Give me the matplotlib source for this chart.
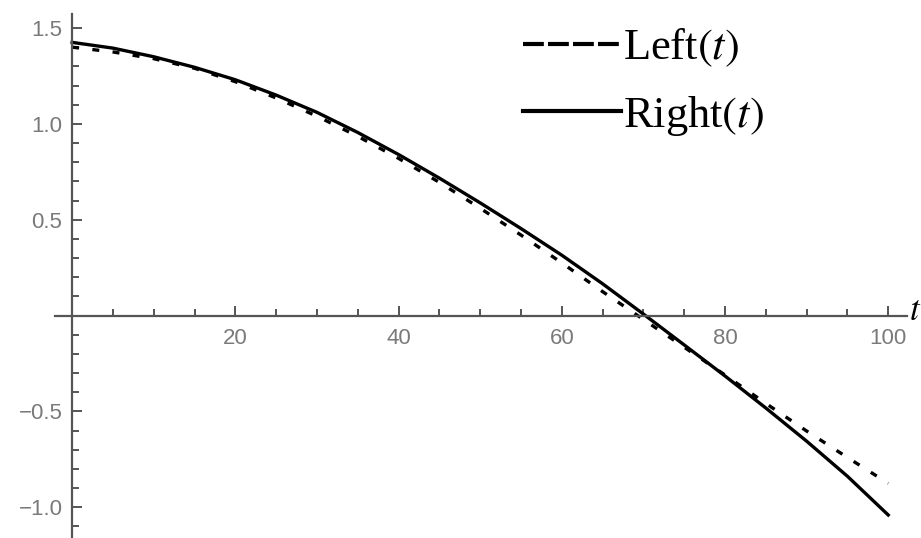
import numpy as np
import matplotlib
matplotlib.use("Agg")
import matplotlib.pyplot as plt
from matplotlib.lines import Line2D
from matplotlib.ticker import FixedLocator, MultipleLocator

plt.rcParams["mathtext.fontset"] = "stix"

# sampled values of the two solutions
t = [0, 5, 10, 15, 20, 25, 30, 35, 40, 45, 50, 55, 60, 65, 70, 75, 80, 85, 90, 95, 100]
left_t = [1.400, 1.375, 1.340, 1.290, 1.220, 1.135, 1.040, 0.935, 0.820, 0.695, 0.560,
          0.420, 0.275, 0.125, -0.020, -0.165, -0.310, -0.458, -0.602, -0.740, -0.875]
right_t = [1.425, 1.395, 1.350, 1.295, 1.230, 1.150, 1.060, 0.955, 0.840, 0.717, 0.588,
           0.454, 0.315, 0.166, 0.008, -0.153, -0.315, -0.482, -0.655, -0.838, -1.040]

x_major = [20, 40, 60, 80, 100]
y_major = [-1.0, -0.5, 0.5, 1.0, 1.5]

axis_grey = "#555555"
label_grey = "#7a7a7a"

fig = plt.figure(figsize=(9.21, 5.38), dpi=100)
ax = fig.add_axes([55 / 921, 0.0, (907 - 55) / 921, 1 - 14 / 538])

ax.plot(t, left_t, color="black", lw=2.4, ls=(0, (2.1, 4.0)))
ax.plot(t, right_t, color="black", lw=2.4)

ax.set_xlim(-2.1, 102.3)
ax.set_ylim(-1.16, 1.573)

# axes through the origin
for side in ["top", "right"]:
    ax.spines[side].set_visible(False)
ax.spines["left"].set_position(("data", 0))
ax.spines["bottom"].set_position(("data", 0))
for side in ["left", "bottom"]:
    ax.spines[side].set_color(axis_grey)
    ax.spines[side].set_linewidth(1.6)

ax.xaxis.set_major_locator(FixedLocator(x_major))
ax.xaxis.set_minor_locator(MultipleLocator(5))
ax.yaxis.set_major_locator(FixedLocator(y_major))
ax.yaxis.set_minor_locator(MultipleLocator(0.1))
ax.set_xticklabels([str(v) for v in x_major])
ax.set_yticklabels([f"{v:.1f}".replace("-", "\u2212") for v in y_major])

ax.tick_params(which="both", direction="in", color=axis_grey, width=1.4,
               labelcolor=label_grey, labelsize=16)
ax.tick_params(which="major", length=7.5)
ax.tick_params(which="minor", length=4.8)
ax.tick_params(axis="x", which="major", pad=9)
ax.tick_params(axis="y", which="major", pad=7)
for lbl in ax.get_xticklabels() + ax.get_yticklabels():
    lbl.set_family("Liberation Sans")

ax.text(102.6, 0.03, "$t$", fontsize=25, ha="left", va="center", clip_on=False)

handles = [
    Line2D([], [], color="black", lw=3.0, ls=(0, (5.0, 1.0))),
    Line2D([], [], color="black", lw=3.0),
]
ax.legend(handles, ["Left$(t)$", "Right$(t)$"], loc="upper left",
          bbox_to_anchor=(523 / 921, 1 - 27 / 538), bbox_transform=fig.transFigure,
          frameon=False, borderpad=0, borderaxespad=0, handlelength=2.2,
          handletextpad=0.05, labelspacing=0.55,
          prop={"family": "Liberation Serif", "size": 32})

fig.savefig("out.png", dpi=100)
